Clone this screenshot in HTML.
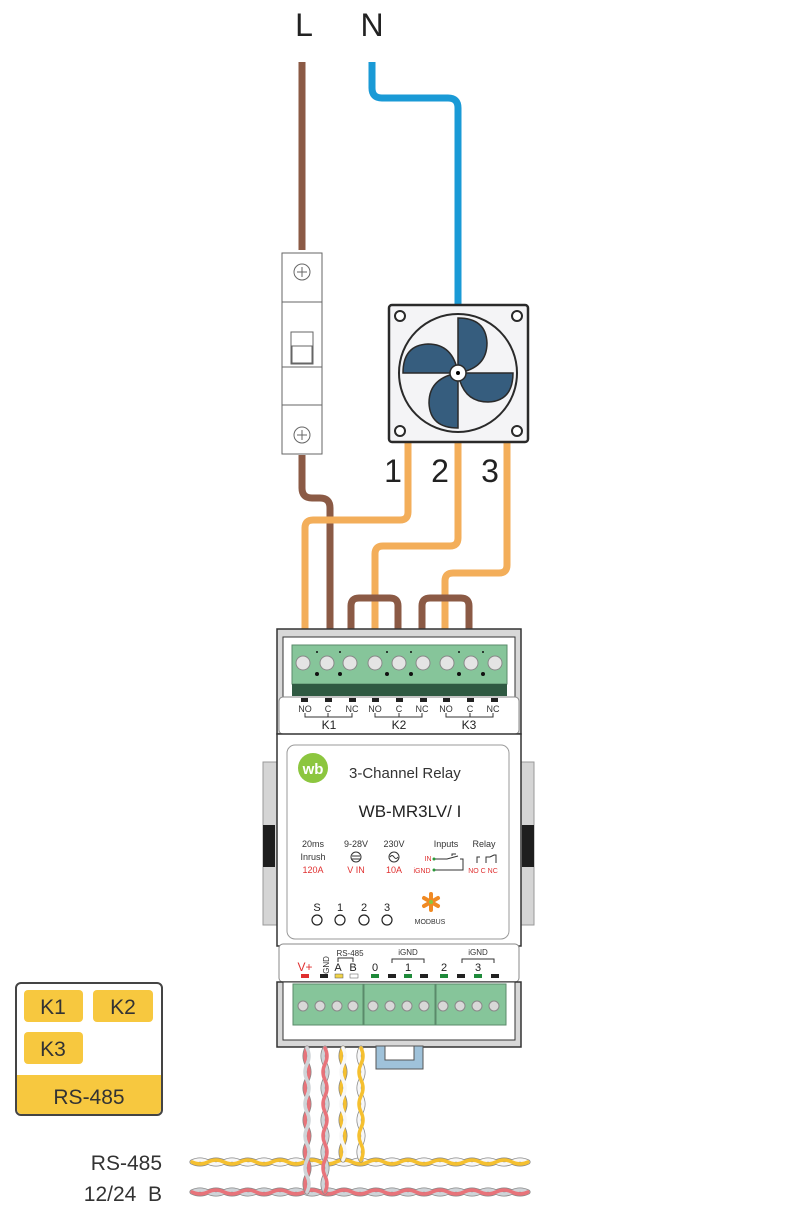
<!DOCTYPE html>
<html><head><meta charset="utf-8"><style>
html,body{margin:0;padding:0;background:#fff}
svg{display:block}
text{font-family:"Liberation Sans","DejaVu Sans",sans-serif}
</style></head><body>
<svg width="800" height="1208" viewBox="0 0 800 1208" xmlns="http://www.w3.org/2000/svg">
<rect width="800" height="1208" fill="#fff"/>
<text x="304" y="36" font-size="32" text-anchor="middle" fill="#222">L</text>
<text x="372" y="36" font-size="32" text-anchor="middle" fill="#222">N</text>
<path d="M372,62 V88 Q372,98 382,98 H448 Q458,98 458,108 V306" fill="none" stroke="#1a9ad6" stroke-width="7"/>
<path d="M302,62 V250 M302,455 V488 Q302,498 312,498 H320 Q330,498 330,508 V630" fill="none" stroke="#8b5a45" stroke-width="7"/>
<g fill="none" stroke="#f3ae5a" stroke-width="7">
<path d="M408,442 V512 Q408,520 400,520 H313 Q305,520 305,528 V630"/>
<path d="M458,442 V538 Q458,546 450,546 H383 Q375,546 375,554 V630"/>
<path d="M507,442 V565 Q507,573 499,573 H453 Q445,573 445,581 V630"/>
</g>
<g fill="none" stroke="#8b5a45" stroke-width="7">
<path d="M351,630 V606 Q351,598 359,598 H390 Q398,598 398,606 V630"/>
<path d="M422,630 V606 Q422,598 430,598 H461 Q469,598 469,606 V630"/>
</g>
<g fill="#fff" stroke="#666" stroke-width="1">
<rect x="282" y="253" width="40" height="201"/>
<line x1="282" y1="302" x2="322" y2="302"/>
<line x1="282" y1="367" x2="322" y2="367"/>
<line x1="282" y1="405" x2="322" y2="405"/>
<rect x="291" y="332" width="22" height="32"/>
<rect x="292" y="346" width="20" height="17"/>
<circle cx="302" cy="272" r="8"/>
<circle cx="302" cy="435" r="8"/>
<path d="M302,267 V277 M297,272 H307 M302,430 V440 M297,435 H307"/>
</g>
<rect x="389" y="305" width="139" height="137" rx="3" fill="#f4f4f6" stroke="#2a2a2a" stroke-width="2.5"/>
<g fill="#fff" stroke="#2a2a2a" stroke-width="2">
<circle cx="400" cy="316" r="5"/><circle cx="517" cy="316" r="5"/>
<circle cx="400" cy="431" r="5"/><circle cx="517" cy="431" r="5"/>
</g>
<circle cx="458" cy="373" r="59" fill="#f4f4f6" stroke="#2a2a2a" stroke-width="2"/>
<g fill="#365d7e" stroke="#2a2a2a" stroke-width="1.5">
<path d="M458,373 V318 Q486,318 487,343 Q487,368 458,373Z"/>
<path d="M458,373 H513 Q513,401 488,402 Q463,402 458,373Z"/>
<path d="M458,373 V428 Q430,428 429,403 Q429,378 458,373Z"/>
<path d="M458,373 H403 Q403,345 428,344 Q453,344 458,373Z"/>
</g>
<circle cx="458" cy="373" r="8" fill="#fff" stroke="#2a2a2a" stroke-width="1.5"/>
<circle cx="458" cy="373" r="2" fill="#000"/>
<text x="393" y="482" font-size="32" text-anchor="middle" fill="#222">1</text>
<text x="440" y="482" font-size="32" text-anchor="middle" fill="#222">2</text>
<text x="490" y="482" font-size="32" text-anchor="middle" fill="#222">3</text>

<rect x="263" y="762" width="14" height="163" fill="#d5d5d5" stroke="#999"/>
<rect x="520" y="762" width="14" height="163" fill="#d5d5d5" stroke="#999"/>
<rect x="263" y="825" width="12" height="42" fill="#1e1e1e"/>
<rect x="522" y="825" width="12" height="42" fill="#1e1e1e"/>
<rect x="277" y="629" width="244" height="105" fill="#d8d8d8" stroke="#333" stroke-width="1.5"/>
<rect x="283" y="637" width="232" height="60" fill="#fff" stroke="#333" stroke-width="1"/>
<rect x="292" y="645" width="215" height="39" fill="#86c59a" stroke="#5a8a6a"/>
<rect x="292" y="684" width="215" height="12" fill="#2f5a42"/>
<g fill="#e4e4e4" stroke="#888" stroke-width="1">
<circle cx="303" cy="663" r="7"/><circle cx="327" cy="663" r="7"/><circle cx="350" cy="663" r="7"/>
<circle cx="375" cy="663" r="7"/><circle cx="399" cy="663" r="7"/><circle cx="423" cy="663" r="7"/>
<circle cx="447" cy="663" r="7"/><circle cx="471" cy="663" r="7"/><circle cx="495" cy="663" r="7"/>
</g>
<g fill="#111">
<circle cx="317" cy="652" r="1"/><circle cx="340" cy="652" r="1"/><circle cx="387" cy="652" r="1"/><circle cx="411" cy="652" r="1"/><circle cx="459" cy="652" r="1"/><circle cx="483" cy="652" r="1"/>
<circle cx="317" cy="674" r="2"/><circle cx="340" cy="674" r="2"/><circle cx="387" cy="674" r="2"/><circle cx="411" cy="674" r="2"/><circle cx="459" cy="674" r="2"/><circle cx="483" cy="674" r="2"/>
</g>
<rect x="279" y="697" width="240" height="37" rx="4" fill="#fff" stroke="#888"/>
<g fill="#222">
<rect x="301" y="698" width="7" height="4"/><rect x="325" y="698" width="7" height="4"/><rect x="349" y="698" width="7" height="4"/>
<rect x="372" y="698" width="7" height="4"/><rect x="396" y="698" width="7" height="4"/><rect x="420" y="698" width="7" height="4"/>
<rect x="443" y="698" width="7" height="4"/><rect x="467" y="698" width="7" height="4"/><rect x="491" y="698" width="7" height="4"/>
</g>
<g font-size="9" fill="#333" text-anchor="middle">
<text x="305" y="712">NO</text><text x="328" y="712">C</text><text x="352" y="712">NC</text>
<text x="375" y="712">NO</text><text x="399" y="712">C</text><text x="422" y="712">NC</text>
<text x="446" y="712">NO</text><text x="470" y="712">C</text><text x="493" y="712">NC</text>
</g>
<g fill="none" stroke="#333"><path d="M305,713 V717 H352 V713 M328,713 V717"/><path d="M375,713 V717 H422 V713 M399,713 V717"/><path d="M446,713 V717 H493 V713 M470,713 V717"/></g>
<g font-size="12" fill="#222" text-anchor="middle"><text x="329" y="729">K1</text><text x="399" y="729">K2</text><text x="469" y="729">K3</text></g>
<rect x="277" y="734" width="244" height="212" fill="#fff" stroke="#333" stroke-width="1.5"/>
<rect x="287" y="745" width="222" height="194" rx="8" fill="#fff" stroke="#999"/>
<circle cx="313" cy="768" r="15" fill="#8cc63f"/>
<text x="313" y="774" font-size="15" font-weight="bold" fill="#fff" text-anchor="middle">wb</text>
<text x="349" y="778" font-size="15" fill="#333">3-Channel Relay</text>
<text x="410" y="817" font-size="17" fill="#222" text-anchor="middle">WB-MR3LV/ I</text>
<g font-size="9" fill="#333" text-anchor="middle">
<text x="313" y="847">20ms</text><text x="313" y="860">Inrush</text>
<text x="356" y="847">9-28V</text><text x="394" y="847">230V</text>
<text x="446" y="847">Inputs</text><text x="484" y="847">Relay</text>
</g>
<g font-size="9" fill="#e03030" text-anchor="middle">
<text x="313" y="873">120A</text><text x="356" y="873">V IN</text><text x="394" y="873">10A</text>
<text x="428" y="861" font-size="7">IN</text><text x="422" y="873" font-size="7">iGND</text>
<text x="483" y="873" font-size="7">NO C NC</text>
</g>
<g fill="none" stroke="#333">
<circle cx="356" cy="857" r="5"/><path d="M352,856 H360 M352,859 H360"/>
<circle cx="394" cy="857" r="5"/><path d="M390,857 q2,-3 4,0 t4,0"/>
<path d="M434,859 H447 L458,856 M452,856 V854 H456 M460,859 H463 V870 H434"/>
<path d="M477,863 V857 H480 M486,863 V857 L490,857 M490,857 L494,855 H496 V863"/>
</g>
<g fill="#2a9a3a"><circle cx="434" cy="859" r="1.5"/><circle cx="434" cy="870" r="1.5"/></g>
<g font-size="11" fill="#222" text-anchor="middle"><text x="317" y="911">S</text><text x="340" y="911">1</text><text x="364" y="911">2</text><text x="387" y="911">3</text></g>
<g fill="none" stroke="#222" stroke-width="1.2"><circle cx="317" cy="920" r="5"/><circle cx="340" cy="920" r="5"/><circle cx="364" cy="920" r="5"/><circle cx="387" cy="920" r="5"/></g>
<g stroke="#f08a24" stroke-width="4" stroke-linecap="round"><path d="M431,894 V910 M424,898 L438,906 M424,906 L438,898"/></g>
<circle cx="431" cy="902" r="2" fill="#8cc63f"/>
<text x="430" y="924" font-size="7" fill="#333" text-anchor="middle">MODBUS</text>
<rect x="279" y="944" width="240" height="38" rx="4" fill="#fff" stroke="#888"/>
<text x="305" y="971" font-size="12" fill="#e03030" text-anchor="middle">V+</text>
<text x="324" y="970" font-size="8" fill="#333" text-anchor="middle" transform="rotate(-90 324 965)">GND</text>
<text x="350" y="956" font-size="8" fill="#333" text-anchor="middle">RS-485</text>
<path d="M338,962 V958 H353 V962" fill="none" stroke="#333"/>
<g font-size="11" fill="#222" text-anchor="middle"><text x="338" y="971">A</text><text x="353" y="971">B</text><text x="375" y="971">0</text><text x="408" y="971">1</text><text x="444" y="971">2</text><text x="478" y="971">3</text></g>
<g font-size="8" fill="#333" text-anchor="middle"><text x="408" y="955">iGND</text><text x="478" y="955">iGND</text></g>
<path d="M392,963 V959 H424 V963 M462,963 V959 H494 V963" fill="none" stroke="#333"/>
<rect x="301" y="974" width="8" height="4" fill="#e03030"/>
<rect x="320" y="974" width="8" height="4" fill="#222"/>
<rect x="335" y="974" width="8" height="4" fill="#f1d44a" stroke="#555" stroke-width=".5"/>
<rect x="350" y="974" width="8" height="4" fill="#fff" stroke="#555" stroke-width=".5"/>
<g fill="#1f8a3a"><rect x="371" y="974" width="8" height="4"/><rect x="404" y="974" width="8" height="4"/><rect x="440" y="974" width="8" height="4"/><rect x="474" y="974" width="8" height="4"/></g>
<g fill="#222"><rect x="388" y="974" width="8" height="4"/><rect x="420" y="974" width="8" height="4"/><rect x="457" y="974" width="8" height="4"/><rect x="491" y="974" width="8" height="4"/></g>
<rect x="277" y="982" width="244" height="65" fill="#d8d8d8" stroke="#333" stroke-width="1.5"/>
<rect x="283" y="982" width="232" height="58" fill="#fff" stroke="#333"/>
<g fill="#86c59a" stroke="#5a8a6a"><rect x="293" y="984" width="70" height="41"/><rect x="364" y="984" width="71" height="41"/><rect x="436" y="984" width="70" height="41"/></g>
<g fill="#d8d8d8" stroke="#888"><circle cx="303" cy="1006" r="5"/><circle cx="320" cy="1006" r="5"/><circle cx="337" cy="1006" r="5"/><circle cx="353" cy="1006" r="5"/><circle cx="373" cy="1006" r="5"/><circle cx="390" cy="1006" r="5"/><circle cx="407" cy="1006" r="5"/><circle cx="424" cy="1006" r="5"/><circle cx="443" cy="1006" r="5"/><circle cx="460" cy="1006" r="5"/><circle cx="477" cy="1006" r="5"/><circle cx="494" cy="1006" r="5"/></g>
<rect x="376" y="1046" width="47" height="23" fill="#9fc2da" stroke="#555"/>
<rect x="385" y="1046" width="29" height="14" fill="#fff" stroke="#555"/>

<!-- twisted wires -->
<g fill="none" stroke-width="3.5" stroke-linecap="round">
<g stroke="#888" stroke-width="5">
<path id="h1a" d="M192,1162 q8,-4 16,0 t16,0 t16,0 t16,0 t16,0 t16,0 t16,0 t16,0 t16,0 t16,0 t16,0 t16,0 t16,0 t16,0 t16,0 t16,0 t16,0 t16,0 t16,0 t16,0 t16,0"/>
<path d="M192,1162 q8,4 16,0 t16,0 t16,0 t16,0 t16,0 t16,0 t16,0 t16,0 t16,0 t16,0 t16,0 t16,0 t16,0 t16,0 t16,0 t16,0 t16,0 t16,0 t16,0 t16,0 t16,0"/>
<path d="M192,1192 q8,-4 16,0 t16,0 t16,0 t16,0 t16,0 t16,0 t16,0 t16,0 t16,0 t16,0 t16,0 t16,0 t16,0 t16,0 t16,0 t16,0 t16,0 t16,0 t16,0 t16,0 t16,0"/>
<path d="M192,1192 q8,4 16,0 t16,0 t16,0 t16,0 t16,0 t16,0 t16,0 t16,0 t16,0 t16,0 t16,0 t16,0 t16,0 t16,0 t16,0 t16,0 t16,0 t16,0 t16,0 t16,0 t16,0"/>
</g>
<path stroke="#f7f7f7" d="M192,1162 q8,-4 16,0 t16,0 t16,0 t16,0 t16,0 t16,0 t16,0 t16,0 t16,0 t16,0 t16,0 t16,0 t16,0 t16,0 t16,0 t16,0 t16,0 t16,0 t16,0 t16,0 t16,0"/>
<path stroke="#f5c030" d="M192,1162 q8,4 16,0 t16,0 t16,0 t16,0 t16,0 t16,0 t16,0 t16,0 t16,0 t16,0 t16,0 t16,0 t16,0 t16,0 t16,0 t16,0 t16,0 t16,0 t16,0 t16,0 t16,0"/>
<path stroke="#cfd4d8" d="M192,1192 q8,-4 16,0 t16,0 t16,0 t16,0 t16,0 t16,0 t16,0 t16,0 t16,0 t16,0 t16,0 t16,0 t16,0 t16,0 t16,0 t16,0 t16,0 t16,0 t16,0 t16,0 t16,0"/>
<path stroke="#e8737a" d="M192,1192 q8,4 16,0 t16,0 t16,0 t16,0 t16,0 t16,0 t16,0 t16,0 t16,0 t16,0 t16,0 t16,0 t16,0 t16,0 t16,0 t16,0 t16,0 t16,0 t16,0 t16,0 t16,0"/>
<g stroke="#888" stroke-width="5">
<path d="M307,1048 q-4,8 0,16 t0,16 t0,16 t0,16 t0,16 t0,16 t0,16 t0,16 t0,16"/>
<path d="M325,1048 q-4,8 0,16 t0,16 t0,16 t0,16 t0,16 t0,16 t0,16 t0,16 t0,16"/>
<path d="M343,1048 q-4,8 0,16 t0,16 t0,16 t0,16 t0,16 t0,16 t0,16"/>
<path d="M361,1048 q-4,8 0,16 t0,16 t0,16 t0,16 t0,16 t0,16 t0,16"/>
</g>
<path stroke="#e8737a" d="M307,1048 q-4,8 0,16 t0,16 t0,16 t0,16 t0,16 t0,16 t0,16 t0,16 t0,16"/>
<path stroke="#cfd4d8" d="M307,1048 q4,8 0,16 t0,16 t0,16 t0,16 t0,16 t0,16 t0,16 t0,16 t0,16"/>
<path stroke="#cfd4d8" d="M325,1048 q-4,8 0,16 t0,16 t0,16 t0,16 t0,16 t0,16 t0,16 t0,16 t0,16"/>
<path stroke="#e8737a" d="M325,1048 q4,8 0,16 t0,16 t0,16 t0,16 t0,16 t0,16 t0,16 t0,16 t0,16"/>
<path stroke="#f5c030" d="M343,1048 q-4,8 0,16 t0,16 t0,16 t0,16 t0,16 t0,16 t0,16"/>
<path stroke="#f7f7f7" d="M343,1048 q4,8 0,16 t0,16 t0,16 t0,16 t0,16 t0,16 t0,16"/>
<path stroke="#f7f7f7" d="M361,1048 q-4,8 0,16 t0,16 t0,16 t0,16 t0,16 t0,16 t0,16"/>
<path stroke="#f5c030" d="M361,1048 q4,8 0,16 t0,16 t0,16 t0,16 t0,16 t0,16 t0,16"/>
</g>

<rect x="16" y="983" width="146" height="132" rx="5" fill="#fff"/>
<path d="M17,1075 H161 V1109 Q161,1114 156,1114 H22 Q17,1114 17,1109 Z" fill="#f7c83f"/>
<rect x="24" y="990" width="59" height="32" rx="4" fill="#f7c83f"/>
<rect x="93" y="990" width="60" height="32" rx="4" fill="#f7c83f"/>
<rect x="24" y="1032" width="59" height="32" rx="4" fill="#f7c83f"/>
<rect x="16" y="983" width="146" height="132" rx="5" fill="none" stroke="#444" stroke-width="2"/>
<g font-size="21" fill="#333" text-anchor="middle">
<text x="53" y="1014">K1</text><text x="123" y="1014">K2</text><text x="53" y="1056">K3</text><text x="89" y="1104">RS-485</text>
</g>
<text x="162" y="1170" font-size="21" fill="#333" text-anchor="end">RS-485</text>
<text x="162" y="1201" font-size="21" fill="#333" text-anchor="end" xml:space="preserve">12/24  B</text>
</svg>
</body></html>
